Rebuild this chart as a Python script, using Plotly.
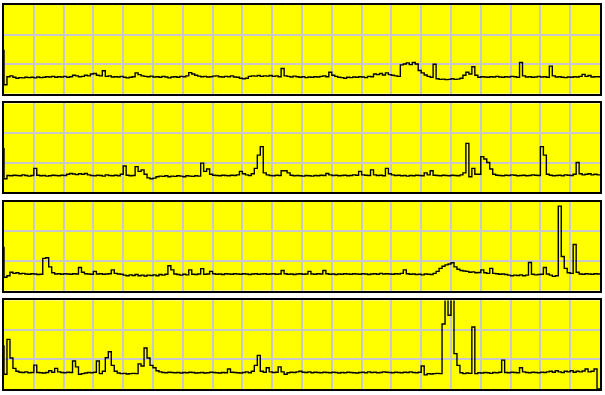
import plotly.graph_objects as go

# time axis: 201 samples, 0.1 unit apart, 20 grid divisions
time = [round(0.1 * i, 1) for i in range(201)]

series_1 = [
    1.48, 0.30, 0.57, 0.60, 0.55, 0.52, 0.54, 0.53, 0.55, 0.54,
    0.55, 0.53, 0.56, 0.54, 0.55, 0.57, 0.56, 0.58, 0.55, 0.57,
    0.56, 0.58, 0.55, 0.57, 0.62, 0.60, 0.57, 0.58, 0.62, 0.60,
    0.66, 0.68, 0.62, 0.60, 0.77, 0.58, 0.60, 0.56, 0.57, 0.56,
    0.58, 0.55, 0.53, 0.55, 0.57, 0.70, 0.64, 0.60, 0.58, 0.57,
    0.59, 0.56, 0.57, 0.55, 0.58, 0.56, 0.53, 0.56, 0.57, 0.55,
    0.58, 0.57, 0.60, 0.71, 0.66, 0.62, 0.59, 0.57, 0.58, 0.56,
    0.57, 0.59, 0.60, 0.57, 0.56, 0.58, 0.57, 0.60, 0.56, 0.55,
    0.52, 0.50, 0.52, 0.58, 0.60, 0.59, 0.61, 0.58, 0.60, 0.59,
    0.61, 0.58, 0.60, 0.57, 0.85, 0.60, 0.58, 0.56, 0.59, 0.57,
    0.55, 0.57, 0.54, 0.56, 0.55, 0.57, 0.56, 0.58, 0.60, 0.57,
    0.72, 0.62, 0.58, 0.55, 0.54, 0.52, 0.55, 0.54, 0.56, 0.55,
    0.57, 0.56, 0.54, 0.58, 0.57, 0.66, 0.64, 0.68, 0.63, 0.70,
    0.64, 0.62, 0.60, 0.58, 0.97, 1.00, 1.04, 0.98, 1.05, 1.00,
    0.78, 0.70, 0.63, 0.58, 0.55, 0.99, 0.50, 0.48, 0.49, 0.47,
    0.48, 0.50, 0.48, 0.49, 0.52, 0.62, 0.72, 0.66, 0.91, 0.62,
    0.55, 0.57, 0.56, 0.55, 0.57, 0.56, 0.58, 0.56, 0.55, 0.57,
    0.56, 0.58, 0.57, 0.55, 1.05, 0.60, 0.56, 0.57, 0.55, 0.56,
    0.58, 0.56, 0.57, 0.55, 0.93, 0.60, 0.56, 0.57, 0.55, 0.54,
    0.56, 0.55, 0.57, 0.56, 0.58, 0.65, 0.58, 0.61, 0.56, 0.57,
    0.57,
]

series_2 = [
    1.49, 0.45, 0.56, 0.55, 0.57, 0.56, 0.55, 0.58, 0.56, 0.54,
    0.56, 0.80, 0.57, 0.55, 0.56, 0.54, 0.55, 0.57, 0.56, 0.55,
    0.57, 0.56, 0.60, 0.63, 0.61, 0.59, 0.62, 0.60, 0.63, 0.58,
    0.56, 0.55, 0.57, 0.56, 0.54, 0.58, 0.56, 0.55, 0.57, 0.55,
    0.60, 0.88, 0.57, 0.55, 0.56, 0.86, 0.70, 0.75, 0.60, 0.48,
    0.45, 0.47, 0.52, 0.54, 0.53, 0.55, 0.52, 0.54, 0.53, 0.55,
    0.54, 0.52, 0.55, 0.54, 0.53, 0.55, 0.54, 0.98, 0.70, 0.78,
    0.60, 0.57, 0.56, 0.55, 0.57, 0.56, 0.55, 0.57, 0.56, 0.58,
    0.70, 0.62, 0.58, 0.56, 0.62, 0.80, 1.25, 1.54, 0.65, 0.58,
    0.56, 0.55, 0.57, 0.56, 0.72, 0.72, 0.65, 0.57, 0.55, 0.56,
    0.55, 0.54, 0.56, 0.55, 0.54, 0.56, 0.55, 0.57, 0.56, 0.63,
    0.58, 0.56, 0.57, 0.55, 0.56, 0.57, 0.55, 0.56, 0.58, 0.57,
    0.70, 0.58, 0.57, 0.56, 0.75, 0.58, 0.56, 0.57, 0.55, 0.80,
    0.62, 0.58, 0.56, 0.57, 0.55, 0.56, 0.54, 0.56, 0.55, 0.57,
    0.56, 0.55, 0.65, 0.58, 0.72, 0.57, 0.56, 0.55, 0.57, 0.56,
    0.55, 0.57, 0.56, 0.55, 0.58, 0.65, 1.65, 0.52, 0.80, 0.60,
    0.60, 1.20, 1.12, 1.00, 0.78, 0.60, 0.57, 0.56, 0.55, 0.57,
    0.56, 0.58, 0.57, 0.55, 0.56, 0.57, 0.55, 0.56, 0.58, 0.57,
    0.56, 1.54, 1.25, 0.60, 0.57, 0.55, 0.56, 0.57, 0.55, 0.58,
    0.57, 0.56, 0.60, 1.00, 0.62, 0.58, 0.60, 0.62, 0.58, 0.60,
    0.58,
]

series_3 = [
    1.48, 0.45, 0.50, 0.62, 0.58, 0.60, 0.57, 0.58, 0.56, 0.55,
    0.57, 0.56, 0.54, 0.55, 1.09, 1.11, 0.80, 0.60, 0.56, 0.57,
    0.55, 0.57, 0.56, 0.55, 0.57, 0.56, 0.78, 0.62, 0.57, 0.56,
    0.55, 0.65, 0.56, 0.57, 0.55, 0.56, 0.57, 0.70, 0.58, 0.56,
    0.55, 0.52, 0.50, 0.53, 0.51, 0.54, 0.50, 0.52, 0.49, 0.52,
    0.51, 0.53, 0.50, 0.54, 0.52, 0.55, 0.84, 0.70, 0.56, 0.54,
    0.52, 0.55, 0.53, 0.70, 0.55, 0.54, 0.56, 0.74, 0.55, 0.56,
    0.65, 0.57, 0.55, 0.56, 0.54, 0.57, 0.56, 0.55, 0.57, 0.56,
    0.55, 0.57, 0.56, 0.54, 0.56, 0.57, 0.55, 0.56, 0.57, 0.55,
    0.56, 0.57, 0.55, 0.56, 0.68, 0.57, 0.55, 0.56, 0.54, 0.56,
    0.57, 0.55, 0.56, 0.65, 0.56, 0.55, 0.57, 0.56, 0.68, 0.57,
    0.55, 0.56, 0.54, 0.56, 0.55, 0.57, 0.56, 0.55, 0.57, 0.56,
    0.55, 0.57, 0.56, 0.54, 0.56, 0.57, 0.55, 0.58, 0.56, 0.57,
    0.56, 0.55, 0.57, 0.56, 0.58, 0.70, 0.57, 0.55, 0.56, 0.54,
    0.55, 0.53, 0.56, 0.55, 0.54, 0.58, 0.65, 0.75, 0.82, 0.87,
    0.90, 0.94, 0.80, 0.72, 0.68, 0.66, 0.65, 0.62, 0.63, 0.60,
    0.61, 0.70, 0.60, 0.58, 0.75, 0.58, 0.57, 0.55, 0.56, 0.54,
    0.52, 0.50, 0.52, 0.51, 0.53, 0.50, 0.52, 0.95, 0.55, 0.53,
    0.54, 0.55, 0.78, 0.56, 0.52, 0.48, 0.50, 2.86, 1.15, 0.75,
    0.60, 0.58, 1.56, 0.62, 0.56, 0.55, 0.57, 0.56, 0.55, 0.57,
    0.56,
]

series_4 = [
    1.48, 0.50, 1.68, 1.05, 0.70, 0.60, 0.57, 0.56, 0.58, 0.55,
    0.56, 0.81, 0.56, 0.55, 0.54, 0.56, 0.62, 0.57, 0.70, 0.58,
    0.56, 0.55, 0.57, 0.56, 0.95, 0.75, 0.50, 0.52, 0.54, 0.56,
    0.55, 0.57, 0.95, 0.52, 0.60, 1.06, 1.26, 0.80, 0.60, 0.54,
    0.52, 0.53, 0.51, 0.52, 0.53, 0.52, 0.85, 0.78, 1.39, 1.05,
    0.80, 0.72, 0.62, 0.58, 0.56, 0.55, 0.57, 0.56, 0.55, 0.56,
    0.54, 0.56, 0.55, 0.57, 0.56, 0.54, 0.55, 0.56, 0.54, 0.55,
    0.57, 0.56, 0.55, 0.54, 0.56, 0.55, 0.68, 0.57, 0.56, 0.55,
    0.54, 0.56, 0.58, 0.55, 0.60, 0.80, 1.14, 0.60, 0.57, 0.72,
    0.58, 0.56, 0.57, 0.75, 0.58, 0.50, 0.55, 0.57, 0.56, 0.58,
    0.60, 0.57, 0.56, 0.58, 0.55, 0.57, 0.56, 0.55, 0.57, 0.56,
    0.55, 0.57, 0.56, 0.54, 0.56, 0.55, 0.57, 0.56, 0.55, 0.54,
    0.56, 0.57, 0.55, 0.58, 0.56, 0.57, 0.55, 0.56, 0.58, 0.57,
    0.56, 0.55, 0.57, 0.56, 0.55, 0.57, 0.56, 0.58, 0.56, 0.55,
    0.57, 0.78, 0.48, 0.52, 0.51, 0.52, 0.53, 0.52, 2.20, 3.20,
    2.50, 3.20, 1.20, 0.80, 0.55, 0.52, 0.54, 0.53, 2.10, 0.52,
    0.55, 0.54, 0.56, 0.55, 0.53, 0.56, 0.55, 0.57, 0.98, 0.56,
    0.55, 0.57, 0.56, 0.55, 0.72, 0.58, 0.56, 0.55, 0.57, 0.56,
    0.55, 0.57, 0.56, 0.58, 0.60, 0.57, 0.62, 0.58, 0.56, 0.60,
    0.58, 0.62, 0.57, 0.60, 0.58, 0.61, 0.68, 0.58, 0.60, 0.68,
    0.00,
]

all_series = [series_1, series_2, series_3, series_4]

W, H = 605, 395
plot_top, plot_bottom = 3, 389
panel_h, panel_gap = 89, 10
span = plot_bottom - plot_top

fig = go.Figure()
for i, values in enumerate(all_series):
    top_px = plot_top + i * (panel_h + panel_gap)
    bot_px = top_px + panel_h
    dom = [(plot_bottom - bot_px) / span, (plot_bottom - top_px) / span]
    suffix = "" if i == 0 else str(i + 1)
    fig.add_trace(go.Scatter(
        x=time, y=values, mode="lines",
        line=dict(color="black", width=1.4, shape="vh"),
        xaxis="x" + suffix, yaxis="y" + suffix,
        showlegend=False, hoverinfo="skip",
    ))
    common = dict(
        showgrid=True, gridcolor="#c8c8c8", gridwidth=1.5,
        showline=True, linecolor="black", linewidth=2, mirror=True,
        zeroline=False, showticklabels=False, ticks="",
        fixedrange=True,
    )
    fig.layout["xaxis" + suffix] = dict(
        range=[0, 20], dtick=1, tick0=0, anchor="y" + suffix,
        domain=[0, 1], **common)
    fig.layout["yaxis" + suffix] = dict(
        range=[0, 3], dtick=1, tick0=0, anchor="x" + suffix,
        domain=dom, **common)

fig.update_layout(
    width=W, height=H,
    margin=dict(l=4, r=5, t=plot_top, b=H - plot_bottom, pad=0),
    plot_bgcolor="#ffff00", paper_bgcolor="white",
    showlegend=False,
)

fig.write_html("out.html", config={"displayModeBar": False})
